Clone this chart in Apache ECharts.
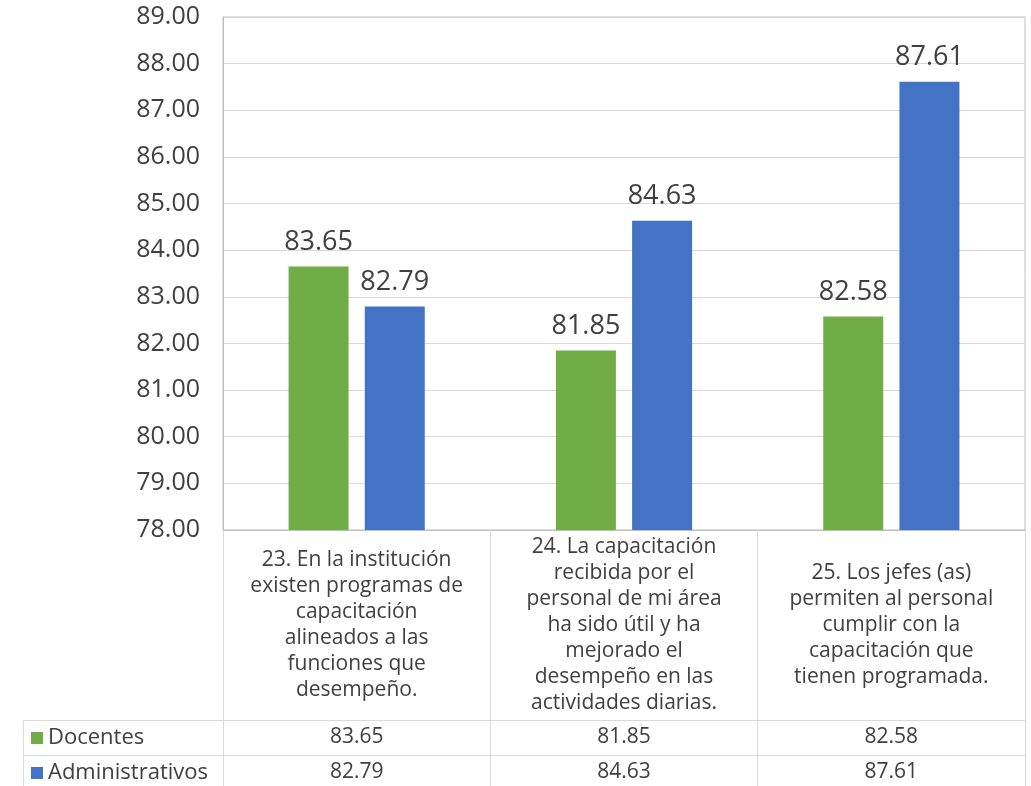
<!DOCTYPE html>
<html>
<head>
<meta charset="utf-8">
<script src="https://cdn.jsdelivr.net/npm/echarts@6/dist/echarts.min.js"></script>
<style>
  html, body { margin: 0; padding: 0; background: #ffffff; }
  #chart { width: 1031px; height: 786px; }
</style>
</head>
<body>
<div id="chart"></div>
<script>
// Survey items (question texts, wrapped as printed in the table header)
const categories = [
  '23. En la institución\nexisten programas de\ncapacitación\nalineados a las\nfunciones que\ndesempeño.',
  '24. La capacitación\nrecibida por el\npersonal de mi área\nha sido útil y ha\nmejorado el\ndesempeño en las\nactividades diarias.',
  '25. Los jefes (as)\npermiten al personal\ncumplir con la\ncapacitación que\ntienen programada.'
];
const seriesNames = ['Docentes', 'Administrativos'];
const docentes = [83.65, 81.85, 82.58];
const administrativos = [82.79, 84.63, 87.61];
const yTicks = { min: 78, max: 89, step: 1 };

const FONT = '"Open Sans", "Noto Sans", sans-serif';
const TEXT = '#404040';
const AXIS = '#bfbfbf';
const GRIDLINE = '#d9d9d9';
const GREEN = '#70ad47';
const BLUE = '#4472c4';

const chart = echarts.init(document.getElementById('chart'), null, { renderer: 'canvas' });

// extra bottom axes that act as the data-table rows
const tableRow = (values, offset) => ({
  type: 'category',
  data: values.map(v => v.toFixed(2)),
  position: 'bottom',
  offset: offset,
  axisLine: { show: true, lineStyle: { color: GRIDLINE, width: 1 } },
  axisTick: { show: true, length: 35, lineStyle: { color: GRIDLINE, width: 1 } },
  axisLabel: {
    interval: 0, margin: 17, verticalAlign: 'middle',
    fontFamily: FONT, fontSize: 21, color: TEXT
  },
  splitLine: { show: false }
});

const legendBox = (name, top) => ({
  data: [name], left: 31, top: top, padding: 0,
  icon: 'rect', itemWidth: 12, itemHeight: 12, itemGap: 6,
  textStyle: { fontFamily: FONT, fontSize: 22, color: TEXT, lineHeight: 20 }
});

const barLabel = {
  show: true, position: 'top', distance: 11,
  fontFamily: FONT, fontSize: 27, color: TEXT,
  formatter: p => p.value.toFixed(2)
};

chart.setOption({
  animation: false,
  textStyle: { fontFamily: FONT },
  grid: { left: 223, right: 6, top: 17, bottom: 256, show: true, borderColor: AXIS, borderWidth: 1 },
  legend: [legendBox(seriesNames[0], 727), legendBox(seriesNames[1], 762)],
  xAxis: [
    {
      type: 'category',
      data: categories,
      position: 'bottom',
      axisLine: { show: true, lineStyle: { color: AXIS, width: 1 } },
      axisTick: { show: true, length: 190, lineStyle: { color: GRIDLINE, width: 1 } },
      axisLabel: {
        interval: 0, margin: 95, verticalAlign: 'middle', align: 'center',
        fontFamily: FONT, fontSize: 21, lineHeight: 26, color: TEXT
      }
    },
    tableRow(docentes, 190),
    tableRow(administrativos, 225)
  ],
  yAxis: {
    type: 'value',
    min: yTicks.min, max: yTicks.max, interval: yTicks.step,
    axisLine: { show: true, lineStyle: { color: AXIS, width: 1 } },
    axisTick: { show: false },
    splitLine: { show: true, lineStyle: { color: GRIDLINE, width: 1 } },
    axisLabel: {
      margin: 23, fontFamily: FONT, fontSize: 25, color: TEXT,
      formatter: v => v.toFixed(2)
    }
  },
  series: [
    {
      name: seriesNames[0], type: 'bar', data: docentes,
      barWidth: 60, barGap: '27%',
      itemStyle: { color: GREEN },
      label: barLabel
    },
    {
      name: seriesNames[1], type: 'bar', data: administrativos,
      barWidth: 60, barGap: '27%',
      itemStyle: { color: BLUE },
      label: barLabel
    }
  ],
  // left part of the data table (legend column borders)
  graphic: [
    { type: 'line', shape: { x1: 23, y1: 720.5, x2: 223, y2: 720.5 }, style: { stroke: GRIDLINE, lineWidth: 1 }, silent: true },
    { type: 'line', shape: { x1: 23, y1: 755.5, x2: 223, y2: 755.5 }, style: { stroke: GRIDLINE, lineWidth: 1 }, silent: true },
    { type: 'line', shape: { x1: 23.5, y1: 720, x2: 23.5, y2: 786 }, style: { stroke: GRIDLINE, lineWidth: 1 }, silent: true }
  ]
});
</script>
</body>
</html>
